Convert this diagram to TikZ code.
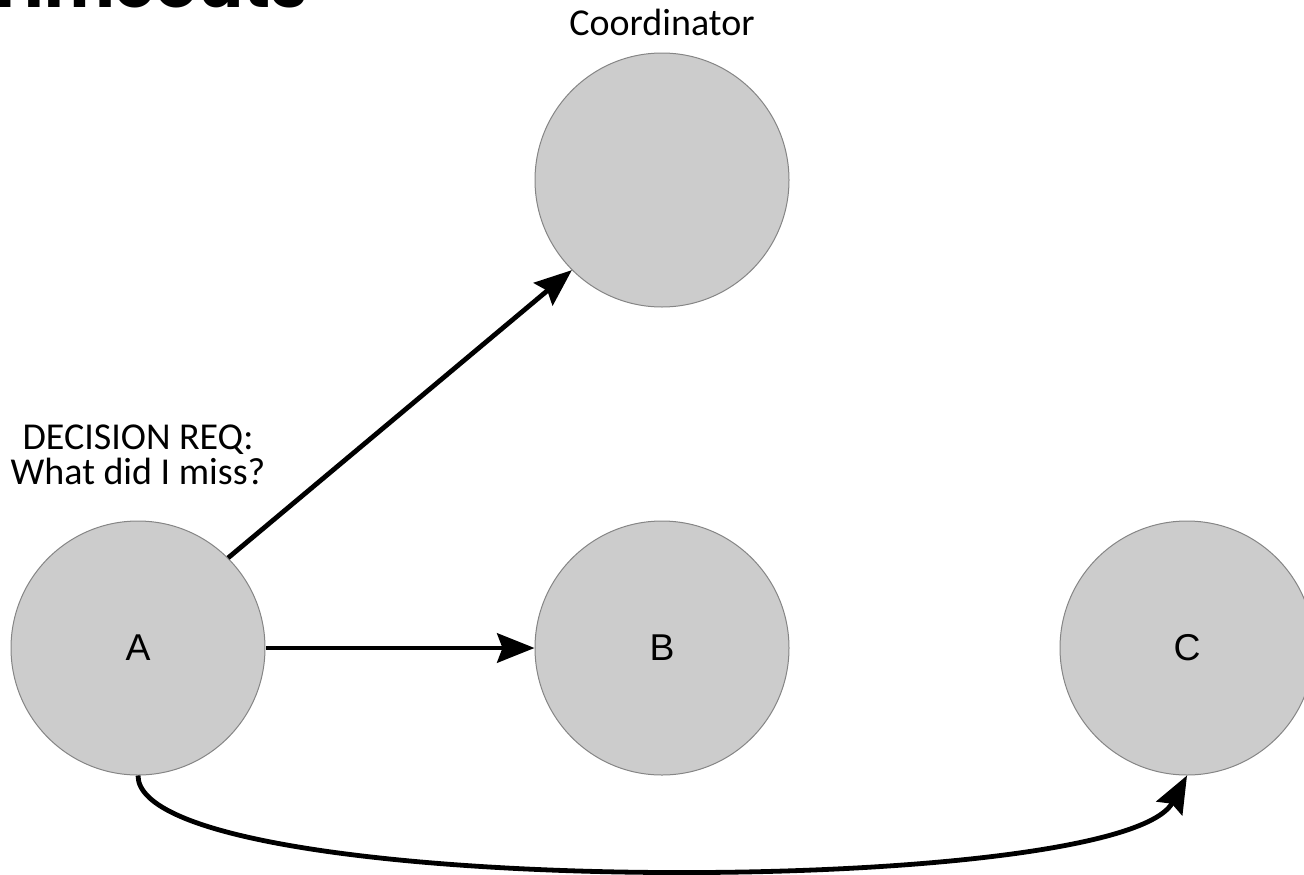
\documentclass[tikz,border=0pt]{standalone}
\usepackage{fontspec}
\setmainfont{Carlito}
\newfontfamily\titlefont{Poppins}
\newfontfamily\letterfont{Liberation Sans}
\usetikzlibrary{arrows.meta}

\definecolor{nodefill}{HTML}{CCCCCC}
\definecolor{nodeline}{HTML}{858585}

\tikzset{
  process/.style={circle, draw=nodeline, line width=0.75pt, fill=nodefill,
    minimum size=190.5pt, inner sep=0pt,
    font=\letterfont\fontsize{28}{30}\selectfont},
  caption/.style={align=center, font=\fontsize{28.5}{26}\selectfont},
  msg/.style={line width=3.6pt,
    -{Stealth[length=28pt, width=22pt, inset=4pt]}},
}

\begin{document}
\begin{tikzpicture}[x=0.75pt, y=-0.75pt]
  \useasboundingbox (0,0) rectangle (1304,875);
  \clip (0,0) rectangle (1304,875);

  % heading, running off the top edge
  \node[anchor=base west, inner sep=0pt,
        font=\titlefont\bfseries\fontsize{50}{56}\selectfont]
    (title) at (-15,7) {Timeouts};

  % participants
  \node[process] (coord) at (662,180) {};
  \node[process] (A) at (138,648) {A};
  \node[process] (B) at (662,648) {B};
  \node[process] (C) at (1187,648) {C};

  % labels (base anchor sits on the last line)
  \node[caption, anchor=base] (coordlbl) at (662,35) {Coordinator};
  \node[caption, anchor=base] (reqlbl) at (138,484)
    {DECISION REQ:\\What did I miss?};

  % messages sent by A
  \draw[msg] (A.north east) -- (coord.south west);
  \draw[msg] (A.east) -- (B.west);
  \draw[msg] (A.south) .. controls (138,900) and (1120,900) .. (C.south);
\end{tikzpicture}
\end{document}
